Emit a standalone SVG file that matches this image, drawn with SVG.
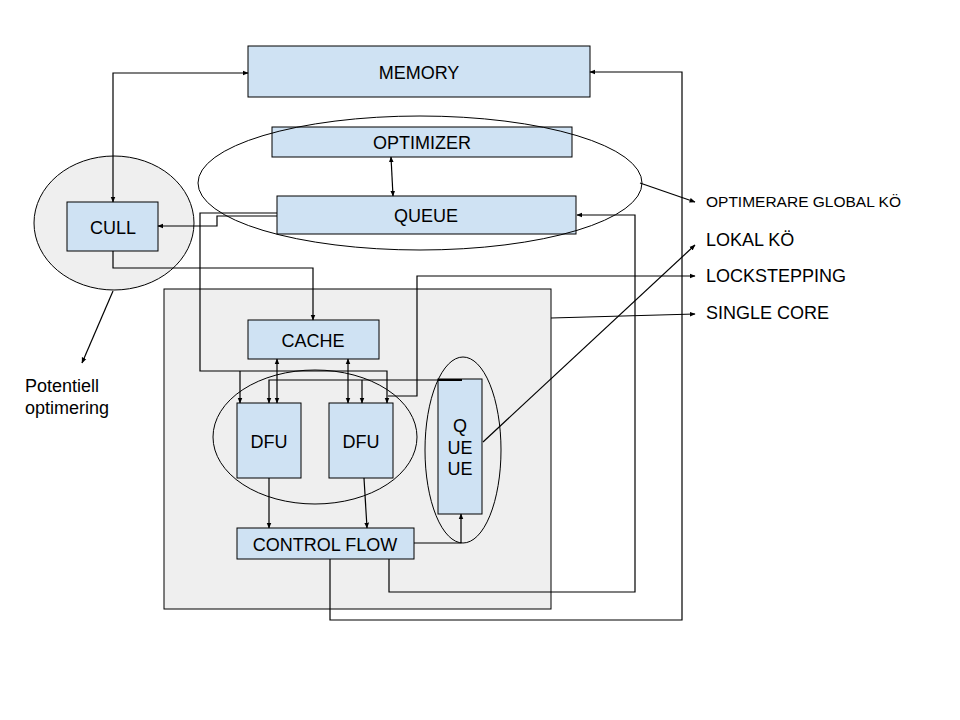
<svg xmlns="http://www.w3.org/2000/svg" width="960" height="720" viewBox="0 0 960 720">
<style>
.box{fill:#cfe2f3;stroke:#000;stroke-width:1}
.gray{fill:#efefef;stroke:#000;stroke-width:1}
.ell{fill:none;stroke:#000;stroke-width:1}
.t{font-family:"Liberation Sans",Arial,sans-serif;font-size:18px;fill:#000;text-anchor:middle}
.l{font-family:"Liberation Sans",Arial,sans-serif;font-size:18px;fill:#000}
.c{fill:none;stroke:#000;stroke-width:1.2}
.a{marker-end:url(#ah)}
.b{marker-start:url(#ah);marker-end:url(#ah)}
</style>
<defs>
<marker id="ah" viewBox="0 0 10 10" refX="9" refY="5" markerWidth="6" markerHeight="6" markerUnits="userSpaceOnUse" orient="auto-start-reverse">
<path d="M0,1 L10,5 L0,9 z" fill="#000"/>
</marker>
</defs>
<rect width="960" height="720" fill="#fff"/>
<g id="cull-group">
<ellipse class="gray" cx="114" cy="223" rx="80" ry="67"/>
</g>
<g id="single-core">
<rect class="gray" x="164" y="289" width="387" height="320"/>
</g>
<g id="memory"><rect class="box" x="248" y="46" width="342" height="51"/><text class="t" x="419" y="79">MEMORY</text></g>
<g id="optimizer"><rect class="box" x="272" y="127" width="300" height="30"/><text class="t" x="422" y="149">OPTIMIZER</text></g>
<g id="queue"><rect class="box" x="277" y="196" width="299" height="38"/><text class="t" x="426" y="222">QUEUE</text></g>
<g id="cull"><rect class="box" x="67" y="202" width="91" height="49"/><text class="t" x="113" y="234">CULL</text></g>
<g id="cache"><rect class="box" x="248" y="320" width="131" height="39"/><text class="t" x="313" y="347">CACHE</text></g>
<g id="dfu1"><rect class="box" x="237" y="403" width="64" height="75"/><text class="t" x="269" y="448">DFU</text></g>
<g id="dfu2"><rect class="box" x="329" y="403" width="64" height="75"/><text class="t" x="361" y="448">DFU</text></g>
<g id="local-queue"><rect class="box" x="438" y="379" width="44" height="135"/><text class="t" x="460" y="432">Q</text><text class="t" x="460" y="454">UE</text><text class="t" x="460" y="475">UE</text></g>
<g id="control-flow"><rect class="box" x="237" y="528" width="177" height="31"/><text class="t" x="325" y="551">CONTROL FLOW</text></g>
<g id="global-ellipse"><ellipse class="ell" cx="420" cy="183" rx="222" ry="67"/></g>
<g id="dfu-ellipse"><ellipse class="ell" cx="315" cy="437" rx="102" ry="67"/></g>
<g id="queue-ellipse"><ellipse class="ell" cx="463" cy="450" rx="38" ry="93"/></g>
<g id="connectors">
<path class="c b" d="M248,73 H113 V202"/>
<path class="c b" d="M391,157 L393,196"/>
<path class="c a" d="M277,216 H217 V226 H158"/>
<path class="c a" d="M277,213 H200 V371 H387 V403"/>
<path class="c a" d="M240,371 V403"/>
<path class="c a" d="M113,251 V268 H313 V320"/>
<path class="c b" d="M277,359 V403"/>
<path class="c b" d="M348,359 V403"/>
<path class="c a" d="M462,380 H269 V403"/>
<path class="c a" d="M362,380 V403"/>
<path fill="none" stroke="#000" stroke-width="2" d="M438,380 H462"/>
<path class="c a" d="M388,396 H417 V276 H695"/>
<path class="c a" d="M269,478 V528"/>
<path class="c a" d="M364,478 L367,528"/>
<path class="c a" d="M414,543 H461 V514"/>
<path class="c a" d="M389,559 V592 H635 V215 H577"/>
<path class="c a" d="M330,559 V620 H682 V72 H590"/>
<path class="c a" d="M640,183 L695,202"/>
<path class="c a" d="M483,442 L695,245"/>
<path class="c a" d="M551,318 L695,314"/>
<path class="c a" d="M113,291 L82,363"/>
</g>
<g id="labels">
<text class="l" x="706" y="207" style="font-size:15.5px">OPTIMERARE GLOBAL KÖ</text>
<text class="l" x="706" y="246">LOKAL KÖ</text>
<text class="l" x="706" y="282">LOCKSTEPPING</text>
<text class="l" x="706" y="319">SINGLE CORE</text>
<text class="l" x="25" y="392">Potentiell</text>
<text class="l" x="25" y="414">optimering</text>
</g>
</svg>
